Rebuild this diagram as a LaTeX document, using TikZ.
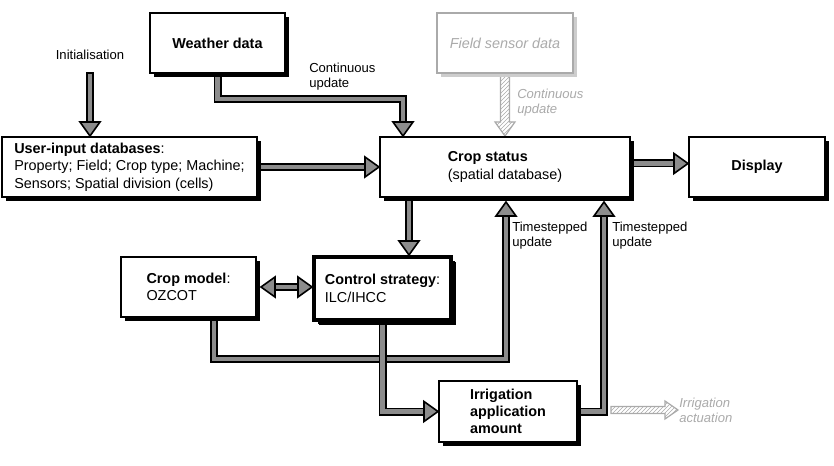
\documentclass[tikz,border=0pt]{standalone}
\usepackage{fontspec}
\setmainfont{Liberation Sans}
\usetikzlibrary{calc,shadows,patterns,backgrounds}
\definecolor{pipegray}{RGB}{140,140,140}
\definecolor{faint}{RGB}{170,170,170}
\definecolor{faintshadow}{RGB}{205,205,205}
\newcommand\hdown[1]{\draw[head] (#1) -- ++(-10,-14) -- ++(20,0) -- cycle;}
\newcommand\hup[1]{\draw[head] (#1) -- ++(-10,14) -- ++(20,0) -- cycle;}
\newcommand\hright[1]{\draw[head] (#1) -- ++(-14,-10) -- ++(0,20) -- cycle;}
\newcommand\hleft[1]{\draw[head] (#1) -- ++(14,-10) -- ++(0,20) -- cycle;}
\begin{document}
\begin{tikzpicture}[x=0.75pt,y=-0.75pt,
  box/.style={draw=black, line width=1.5pt, fill=white, align=left, inner sep=0pt,
     font=\fontsize{10.8}{13}\selectfont,
     drop shadow={shadow xshift=3pt,shadow yshift=-3pt,fill=black,opacity=1}},
  thickbox/.style={box, line width=3pt,
     drop shadow={shadow xshift=3.5pt,shadow yshift=-3.5pt,fill=black,opacity=1}},
  faintbox/.style={draw=faint, line width=1.5pt, fill=white, align=left, inner sep=0pt,
     font=\fontsize{10.8}{13}\selectfont, text=faint,
     drop shadow={shadow xshift=3pt,shadow yshift=-3pt,fill=faintshadow,opacity=1}},
  lbl/.style={font=\fontsize{9.8}{11.3}\selectfont, align=left, inner sep=0pt},
  flbl/.style={lbl, text=faint, font=\fontsize{9.8}{11.3}\selectfont\itshape},
  pipe/.style={draw=black, line width=1.4pt, double=pipegray, double distance=3.2pt,
     line join=miter, shorten >=10pt},
  head/.style={draw=black, fill=pipegray, line width=1.2pt, line join=miter},
  hatch/.style={draw=faint, line width=0.9pt, pattern=north east lines,
     pattern color=faint, line join=miter}
]
\useasboundingbox (0,0) rectangle (834,466);

% boxes
\node[box, minimum width=135*0.75pt, minimum height=60*0.75pt] (weather) at (217.5,43) {\textbf{Weather data}};
\node[faintbox, minimum width=136*0.75pt, minimum height=60*0.75pt] (field) at (505,43) {\itshape Field sensor data};
\node[box, minimum width=255*0.75pt, minimum height=60*0.75pt] (user) at (129.5,167)
  {\textbf{User-input databases}:\\Property; Field; Crop type; Machine;\\Sensors; Spatial division (cells)};
\node[box, minimum width=250*0.75pt, minimum height=60*0.75pt] (crop) at (505,167)
  {\textbf{Crop status}\\(spatial database)};
\node[box, minimum width=136*0.75pt, minimum height=60*0.75pt] (display) at (757,167) {\textbf{Display}};
\node[box, minimum width=135*0.75pt, minimum height=60*0.75pt] (model) at (188.5,287)
  {\textbf{Crop model}:\\OZCOT};
\node[thickbox, minimum width=137*0.75pt, minimum height=63*0.75pt] (control) at (382.5,288.5)
  {\textbf{Control strategy}:\\ILC/IHCC};
\node[box, minimum width=138*0.75pt, minimum height=61*0.75pt] (irrig) at (508,411.5)
  {\textbf{Irrigation}\\\textbf{application}\\\textbf{amount}};

% labels
\node[lbl] (init) at (90,55) {Initialisation};
\node[lbl, anchor=west] (cu) at (309,77) {Continuous\\update};
\node[flbl, anchor=west] (fcu) at (517,103) {Continuous\\update};
\node[lbl, anchor=west] (ts1) at (512,236) {Timestepped\\update};
\node[lbl, anchor=west] (ts2) at (612,236) {Timestepped\\update};
\node[flbl, anchor=west] (act) at (679,410) {Irrigation\\actuation};

% coordinates
\coordinate (initstart) at (90,73);
\coordinate (wb) at ($(crop.north west)+(24,-37)$);
\coordinate (cd1) at ($(crop.east)+(0,-3.5)$);
\coordinate (cc) at ($(crop.south west)+(30,0)$);
\coordinate (m1) at ($(model.south west)+(94,0)$);
\coordinate (t1) at ($(crop.south west)+(127,4)$);
\coordinate (mb) at ($(t1)+(0,157)$);
\coordinate (t2) at ($(crop.south west)+(225,4)$);
\coordinate (a0) at ($(irrig.east)+(33,-1.5)$);
\coordinate (a1) at ($(a0)+(67,0)$);

% connectors
\begin{scope}[on background layer]
  \fill[white] (0,0) rectangle (834,466);
  \draw[pipe] (initstart) -- (initstart |- user.north);
  \draw[pipe] (weather.south) |- (wb) -- (wb |- crop.north);
  \draw[pipe] (user.east) -- (crop.west);
  \draw[pipe] (cd1) -- (cd1 -| display.west);
  \draw[pipe] (cc) -- (cc |- control.north);
  \draw[pipe, shorten <=13pt] (model.east) -- (model.east -| control.west);
  \draw[pipe] (m1) |- (mb) -- (t1);
  \draw[pipe] (control.south) |- (irrig.west);
  \draw[pipe] (irrig.east) -| (t2);
  \draw[hatch] ($(field.south)+(-4.5,0)$) -- ($(crop.north)+(-4.5,-14)$)
     -- ($(crop.north)+(-10,-14)$) -- (crop.north) -- ($(crop.north)+(10,-14)$)
     -- ($(crop.north)+(4.5,-14)$) -- ($(field.south)+(4.5,0)$);
\end{scope}
\draw[black, line width=1.4pt] ($(initstart)+(-3.9,0)$) -- ($(initstart)+(3.9,0)$);
\draw[hatch] ($(a0)+(0,-3.5)$) -- ($(a1)+(-13,-3.5)$) -- ($(a1)+(-13,-9)$) -- (a1)
   -- ($(a1)+(-13,9)$) -- ($(a1)+(-13,3.5)$) -- ($(a0)+(0,3.5)$) -- cycle;

% arrow heads
\hdown{initstart |- user.north}
\hdown{wb |- crop.north}
\hright{crop.west}
\hright{cd1 -| display.west}
\hdown{cc |- control.north}
\hleft{$(model.east)+(4,0)$}
\hright{model.east -| control.west}
\hup{t1}
\hright{irrig.west}
\hup{t2}
\end{tikzpicture}
\end{document}
